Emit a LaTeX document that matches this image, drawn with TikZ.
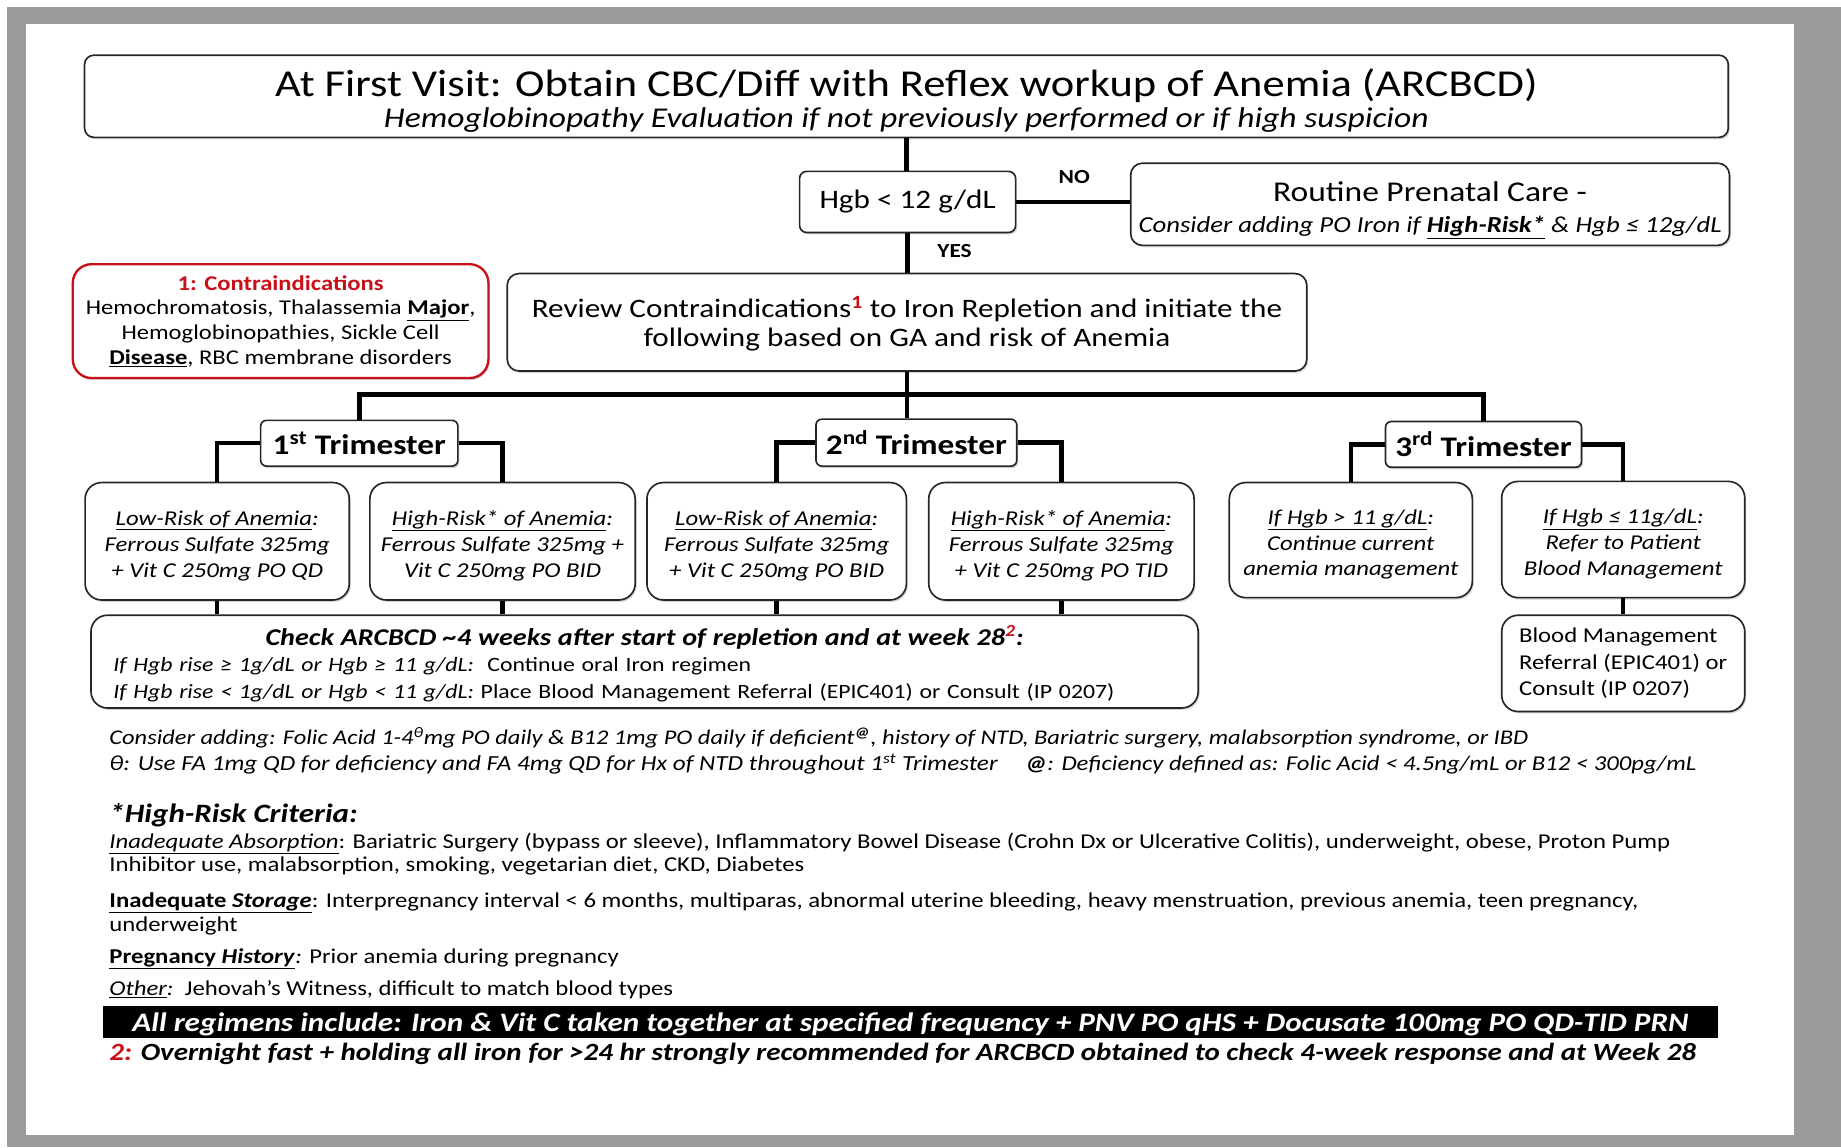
\documentclass[tikz,border=0pt]{standalone}
\usepackage{fontspec}
\setmainfont{Carlito}[FakeStretch=1.17]
\usetikzlibrary{shadows}
\definecolor{cred}{RGB}{200,16,26}
\definecolor{framegrey}{RGB}{155,155,155}
\newcommand{\firststrut}{\rule{0pt}{20pt}}
\begin{document}
\begin{tikzpicture}[x=1pt,y=-1pt,
  box/.style={draw=black!85,line width=1.4pt,rounded corners=14pt,fill=white,align=center,inner sep=0pt,
    drop shadow={shadow xshift=1.2pt,shadow yshift=-1.6pt,opacity=0.35}},
  tribox/.style={box,rounded corners=5pt,font=\fontsize{24.2}{26}\selectfont\bfseries},
  rbox/.style={box,font=\fontsize{18}{22}\selectfont\itshape},
  conn/.style={line width=3.8pt},
  lbl/.style={font=\fontsize{17}{18}\selectfont\bfseries,inner sep=0pt},
  fn/.style={anchor=west,inner sep=0pt,font=\fontsize{17.8}{20}\selectfont,text height=12pt,text depth=4pt}
]
% frame
\fill[framegrey] (0,0) rectangle (1568,977);
\fill[white] (0,0) rectangle (1568,6);
\fill[white] (0,0) rectangle (6,977);
\fill[white] (22.5,20.5) rectangle (1528,967);
\useasboundingbox (0,0) rectangle (1568,977);

% nodes
\node[box,rounded corners=8pt,minimum width=1400pt,minimum height=70pt] (title) at (772,82)
  {{\fontsize{32.4}{32}\selectfont\rule{0pt}{31pt}At First Visit: Obtain CBC/Diff with Reflex workup of Anemia (ARCBCD)}\\[4pt]
   {\fontsize{24.4}{26}\selectfont\itshape Hemoglobinopathy Evaluation if not previously performed or if high suspicion}};
\node[box,rounded corners=6pt,minimum width=184pt,minimum height=52pt,font=\fontsize{22.7}{24}\selectfont] (hgb) at (773,172) {Hgb < 12 g/dL};
\node[box,rounded corners=10pt,minimum width=510pt,minimum height=70pt] (routine) at (1218,174)
  {{\fontsize{24.4}{26}\selectfont\rule{0pt}{27pt}Routine Prenatal Care -}\\[12pt]
   {\fontsize{19.5}{22}\selectfont\itshape Consider adding PO Iron if \textbf{\underline{High-Risk*}} \& Hgb ≤ 12g/dL}};
\node[box,draw=cred,line width=2pt,rounded corners=16pt,minimum width=354pt,minimum height=97pt,font=\fontsize{17.9}{21}\selectfont] (contra) at (239,273.5)
  {{\color{cred}\bfseries 1: Contraindications}\\
   Hemochromatosis, Thalassemia \textbf{\underline{Major}},\\
   Hemoglobinopathies, Sickle Cell\\
   \textbf{\underline{Disease}}, RBC membrane disorders};
\node[box,rounded corners=10pt,minimum width=681pt,minimum height=83pt,font=\fontsize{22.7}{25}\selectfont] (review) at (772.5,274.5)
  {\rule{0pt}{20pt}Review Contraindications\textsuperscript{\color{cred}\bfseries 1} to Iron Repletion and initiate the\\
   following based on GA and risk of Anemia};

\node[tribox,minimum width=168pt,minimum height=39pt] (t1) at (306,377.5) {1\textsuperscript{st} Trimester};
\node[tribox,minimum width=171pt,minimum height=40pt] (t2) at (780.5,377) {2\textsuperscript{nd} Trimester};
\node[tribox,minimum width=167pt,minimum height=39pt] (t3) at (1263.5,378.5) {3\textsuperscript{rd} Trimester};

\node[rbox,minimum width=225pt,minimum height=100pt] (lr1) at (185,461)
  {\firststrut\underline{Low-Risk of Anemia}:\\Ferrous Sulfate 325mg\\+ Vit C 250mg PO QD};
\node[rbox,minimum width=226pt,minimum height=100pt] (hr1) at (428,461)
  {\firststrut\underline{High-Risk* of Anemia}:\\Ferrous Sulfate 325mg +\\Vit C 250mg PO BID};
\node[rbox,minimum width=221pt,minimum height=100pt] (lr2) at (661.5,461)
  {\firststrut\underline{Low-Risk of Anemia}:\\Ferrous Sulfate 325mg\\+ Vit C 250mg PO BID};
\node[rbox,minimum width=226pt,minimum height=100pt] (hr2) at (904,461)
  {\firststrut\underline{High-Risk* of Anemia}:\\Ferrous Sulfate 325mg\\+ Vit C 250mg PO TID};
\node[rbox,minimum width=207pt,minimum height=98pt] (h3a) at (1150.5,460)
  {\firststrut\underline{If Hgb > 11 g/dL}:\\Continue current\\anemia management};
\node[rbox,minimum width=207pt,minimum height=99pt] (h3b) at (1382.5,459.5)
  {\firststrut\underline{If Hgb ≤ 11g/dL}:\\Refer to Patient\\Blood Management};

\node[box,minimum width=943pt,minimum height=79pt,align=left,text width=905pt,font=\fontsize{17.3}{22.5}\selectfont] (check) at (549,563.5)
  {\makebox[905pt][c]{\fontsize{20.5}{22}\selectfont\bfseries\itshape\rule{0pt}{20pt}Check ARCBCD \textasciitilde4 weeks after start of repletion and at week 28\textsuperscript{\color{cred}2}:}\\
   \textit{If Hgb rise ≥ 1g/dL or Hgb ≥ 11 g/dL:}\ \ Continue oral Iron regimen\\
   \textit{If Hgb rise < 1g/dL or Hgb < 11 g/dL:} Place Blood Management Referral (EPIC401) or Consult (IP 0207)};
\node[box,minimum width=207pt,minimum height=82pt,align=left,font=\fontsize{18}{22.5}\selectfont] (bm) at (1382.5,565)
  {Blood Management\\Referral (EPIC401) or\\Consult (IP 0207)};

% labels
\node[lbl] (no) at (915,151) {NO};
\node[lbl] (yes) at (813,214) {YES};

% connectors
\coordinate (busy) at (0,336);
\draw[conn] (title.south) -- (title.south |- hgb.north);
\draw[conn] (hgb.south) -- (hgb.south |- review.north);
\draw[conn] (hgb.east) -- (hgb.east -| routine.west);
\draw[conn] (review.south) -- (review.south |- t2.north);
\draw[conn] (t1.north) -- (t1.north |- busy) -| (t3.north);
\draw[conn] (t1.west) -| (lr1.north);
\draw[conn] (t1.east) -| (hr1.north);
\draw[conn] (t2.west) -| (lr2.north);
\draw[conn] (t2.east) -| (hr2.north);
\draw[conn] (t3.west) -| (h3a.north);
\draw[conn] (t3.east) -| (h3b.north);
\draw[conn] (lr1.south) -- (lr1.south |- check.north);
\draw[conn] (hr1.south) -- (hr1.south |- check.north);
\draw[conn] (lr2.south) -- (lr2.south |- check.north);
\draw[conn] (hr2.south) -- (hr2.south |- check.north);
\draw[conn] (h3b.south) -- (bm.north);

% footnotes
\node[fn] (fn1) at (93,630.5) {\itshape Consider adding: Folic Acid 1-4\textsuperscript{θ}mg PO daily \& B12 1mg PO daily if deficient\textsuperscript{\bfseries @}, history of NTD, Bariatric surgery, malabsorption syndrome, or IBD};
\node[fn,font=\fontsize{18.3}{20}\selectfont] (fn2) at (93,652.5) {\itshape θ: Use FA 1mg QD for deficiency and FA 4mg QD for Hx of NTD throughout 1\textsuperscript{st} Trimester};
\node[fn,font=\fontsize{18}{20}\selectfont] (fn3) at (873,652.5) {\itshape\textbf{@}: Deficiency defined as: Folic Acid < 4.5ng/mL or B12 < 300pg/mL};
\node[fn,font=\fontsize{22.6}{26}\selectfont\bfseries\itshape,text height=16pt,text depth=5pt] (hrc) at (93,695) {*High-Risk Criteria:};
\node[fn,font=\fontsize{18}{20}\selectfont] (c1) at (93,718.5) {\textit{\underline{Inadequate Absorption}}: Bariatric Surgery (bypass or sleeve), Inflammatory Bowel Disease (Crohn Dx or Ulcerative Colitis), underweight, obese, Proton Pump};
\node[fn,font=\fontsize{18}{20}\selectfont] (c2) at (93,738.5) {Inhibitor use, malabsorption, smoking, vegetarian diet, CKD, Diabetes};
\node[fn,font=\fontsize{18}{20}\selectfont] (c3) at (93,768.5) {\textbf{\underline{Inadequate \textit{Storage}}}: Interpregnancy interval < 6 months, multiparas, abnormal uterine bleeding, heavy menstruation, previous anemia, teen pregnancy,};
\node[fn,font=\fontsize{18}{20}\selectfont] (c4) at (93,789.5) {underweight};
\node[fn,font=\fontsize{18}{20}\selectfont] (c5) at (93,816.5) {\textbf{\underline{Pregnancy \textit{History}}}\textit{:} Prior anemia during pregnancy};
\node[fn,font=\fontsize{18}{20}\selectfont] (c6) at (93,843.5) {\textit{\underline{Other}:}\ \ Jehovah's Witness, difficult to match blood types};
\node[fill=black,minimum width=1375pt,minimum height=27pt,inner sep=0pt,text=white,text height=20pt,text depth=4pt,font=\fontsize{22.7}{22}\selectfont\bfseries\itshape] (bar) at (775.5,870.5)
  {All regimens include: Iron \& Vit C taken together at specified frequency + PNV PO qHS + Docusate 100mg PO QD-TID PRN};
\node[fn,font=\fontsize{21.1}{22}\selectfont\bfseries\itshape] (last) at (93,899.5)
  {{\color{cred}2:} Overnight fast + holding all iron for >24 hr strongly recommended for ARCBCD obtained to check 4-week response and at Week 28};
\end{tikzpicture}
\end{document}
